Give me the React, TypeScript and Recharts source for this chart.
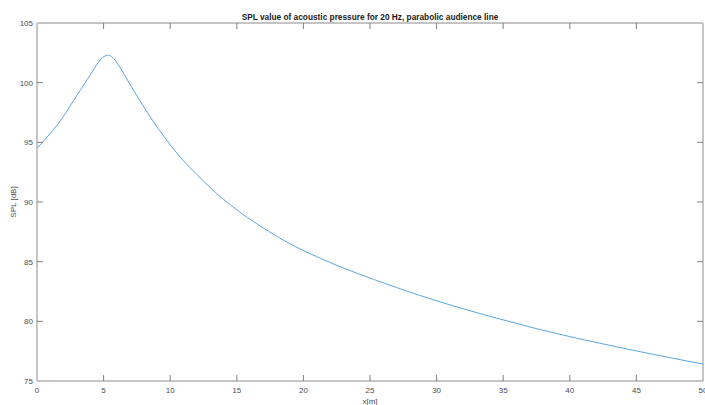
import React from "react";
import { LineChart, Line, XAxis, YAxis, ReferenceLine } from "recharts";

const xPositions = [0, 1, 2, 3, 4, 4.6, 5.2, 5.85, 6.7, 7.5, 8.4, 9.2, 10, 11, 12, 13.5, 15, 16, 18.5, 21, 23.5, 27, 29.5, 32, 34.5, 37, 40, 45, 50];
const splValues = [94.5, 95.75, 97.2, 98.95, 100.65, 101.7, 102.28, 101.9, 100.4, 98.9, 97.3, 96.0, 94.8, 93.45, 92.3, 90.7, 89.35, 88.55, 86.8, 85.42, 84.25, 82.83, 81.9, 81.05, 80.27, 79.53, 78.72, 77.52, 76.42];
const xTicks = [0, 5, 10, 15, 20, 25, 30, 35, 40, 45, 50];
const yTicks = [75, 80, 85, 90, 95, 100, 105];

const title = "SPL value of acoustic pressure for 20 Hz, parabolic audience line";
const xLabel = "x[m]";
const yLabel = "SPL [dB]";

const data = xPositions.map((x, i) => ({ x, spl: splValues[i] }));

const W = 705;
const H = 405;
const TOP = 23;
const BOTTOM = 381;
const LEFT = 37;
const RIGHT = 703;
const TICK = 6;
const FONT = "Liberation Sans, Arial, Helvetica, sans-serif";

const XTick = (props: any) => {
  const { x, payload } = props;
  const v = payload.value;
  return (
    <g>
      {v !== 0 && v !== 50 && (
        <>
          <line x1={x} x2={x} y1={BOTTOM} y2={BOTTOM - TICK} stroke="#808080" strokeWidth={1} />
          <line x1={x} x2={x} y1={TOP} y2={TOP + TICK} stroke="#808080" strokeWidth={1} />
        </>
      )}
      <text x={x} y={BOTTOM + 12} textAnchor="middle" fontSize={8} fontFamily={FONT} fill="#4d4d4d">
        {v}
      </text>
    </g>
  );
};

const YTick = (props: any) => {
  const { y, payload } = props;
  const v = payload.value;
  return (
    <g>
      {v !== 75 && v !== 105 && (
        <>
          <line x1={LEFT} x2={LEFT + TICK} y1={y} y2={y} stroke="#808080" strokeWidth={1} />
          <line x1={RIGHT} x2={RIGHT - TICK} y1={y} y2={y} stroke="#808080" strokeWidth={1} />
        </>
      )}
      <text x={LEFT - 4} y={y + 3} textAnchor="end" fontSize={8} fontFamily={FONT} fill="#4d4d4d">
        {v}
      </text>
    </g>
  );
};

export default function App() {
  return (
    <div style={{ position: "absolute", left: 0, top: 0, width: W, height: H, overflow: "hidden", background: "#fff" }}>
      <LineChart width={W} height={H} data={data} margin={{ top: TOP, right: W - RIGHT, left: 0, bottom: 0 }}>
        <XAxis
          dataKey="x"
          type="number"
          domain={[0, 50]}
          ticks={xTicks}
          interval={0}
          tickLine={false}
          tickSize={0}
          tickMargin={0}
          height={H - BOTTOM}
          axisLine={{ stroke: "#8a8a8a", strokeWidth: 1 }}
          tick={<XTick />}
          allowDataOverflow
        />
        <YAxis
          type="number"
          domain={[75, 105]}
          ticks={yTicks}
          interval={0}
          tickLine={false}
          tickSize={0}
          tickMargin={0}
          width={LEFT}
          axisLine={{ stroke: "#c6c6c6", strokeWidth: 2 }}
          tick={<YTick />}
          allowDataOverflow
        />
        <ReferenceLine y={105} stroke="#8a8a8a" strokeWidth={1} />
        <ReferenceLine x={50} stroke="#c6c6c6" strokeWidth={2} />
        <Line
          dataKey="spl"
          type="natural"
          stroke="#5aa6e0"
          strokeWidth={1}
          dot={false}
          isAnimationActive={false}
        />
        <text x={370} y={20} textAnchor="middle" fontSize={8.3} fontWeight="bold" fontFamily={FONT} fill="#1a1a1a">
          {title}
        </text>
        <text x={370} y={404} textAnchor="middle" fontSize={8} fontFamily={FONT} fill="#4d4d4d">
          {xLabel}
        </text>
        <text
          x={16}
          y={202}
          textAnchor="middle"
          fontSize={8}
          fontFamily={FONT}
          fill="#4d4d4d"
          transform="rotate(-90 16 202)"
        >
          {yLabel}
        </text>
      </LineChart>
    </div>
  );
}
